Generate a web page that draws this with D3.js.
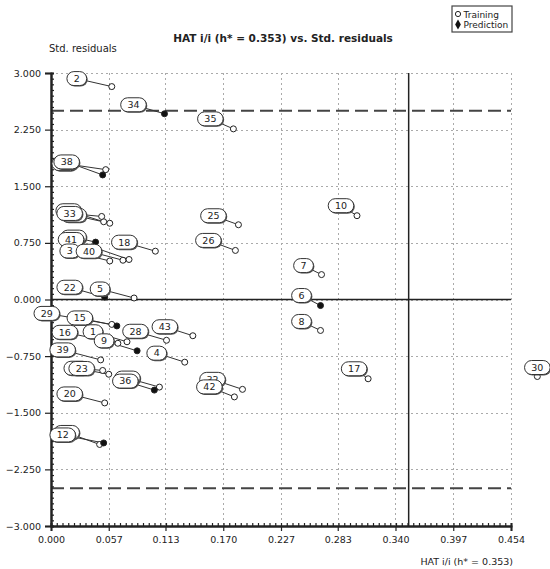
<!DOCTYPE html>
<html>
<head>
<meta charset="utf-8">
<script src="https://cdn.jsdelivr.net/npm/d3@7"></script>
<style>
body { margin: 0; background: #fff; }
text { font-family: "DejaVu Sans", Verdana, sans-serif; fill: #222; }
</style>
</head>
<body>
<svg id="chart"></svg>
<script>
// sample ids, leverage (HAT i/i), standardized residuals, set (T = training, P = prediction)
// order = drawing order (later labels sit on top)
const ids   = [11, 14, 33, 37, 38, 27, 41, 3, 40, 18, 22, 5, 2, 34, 35, 25, 26, 7, 6, 10, 8, 17, 30, 32, 42, 43, 4, 28, 29, 15, 16, 1, 9, 39, 19, 23, 31, 36, 20, 13, 12];
const hat   = [0.052, 0.058, 0.050, 0.054, 0.051, 0.044, 0.077, 0.058, 0.071, 0.103, 0.053, 0.082, 0.060, 0.112, 0.180, 0.185, 0.182, 0.267, 0.266, 0.302, 0.266, 0.313, 0.480, 0.189, 0.181, 0.140, 0.132, 0.114, 0.060, 0.065, 0.066, 0.075, 0.085, 0.049, 0.057, 0.051, 0.107, 0.102, 0.053, 0.048, 0.052];
const resid = [1.03, 1.01, 1.10, 1.72, 1.65, 0.76, 0.53, 0.51, 0.52, 0.64, 0.03, 0.02, 2.82, 2.46, 2.26, 0.99, 0.65, 0.33, -0.08, 1.11, -0.41, -1.05, -1.02, -1.19, -1.29, -0.48, -0.83, -0.54, -0.33, -0.35, -0.58, -0.56, -0.68, -0.80, -0.99, -0.94, -1.16, -1.20, -1.37, -1.92, -1.90];
const set   = ["T", "T", "T", "T", "P", "P", "T", "T", "T", "T", "P", "T", "T", "P", "T", "T", "T", "T", "P", "T", "T", "T", "T", "T", "T", "T", "T", "T", "T", "P", "T", "T", "P", "T", "T", "T", "T", "P", "T", "T", "P"];

const xTicks = [0, 0.057, 0.113, 0.170, 0.227, 0.283, 0.340, 0.397, 0.454];
const yTicks = [-3, -2.25, -1.5, -0.75, 0, 0.75, 1.5, 2.25, 3];
const hStar = 0.353;
const residLimit = 2.5;

// label placement (pixel nudges from the marker), like the original's label layout
const labelNudge = {
    11: [-35, -11], 14: [-36, -8], 33: [-32, -3], 37: [-41, -6], 38: [-36, -13], 27: [-22, -5],
    41: [-58, -20], 3: [-40, -10], 40: [-34, -9], 18: [-31, -9], 22: [-35, -10], 5: [-34, -9],
    2: [-35, -8], 34: [-31, -9], 35: [-23, -10], 25: [-25, -9], 26: [-27, -10], 7: [-18, -9],
    6: [-19, -10], 10: [-16, -10], 8: [-19, -9], 17: [-14, -10], 30: [0, -9], 32: [-30, -10],
    42: [-25, -10], 43: [-28, -9], 4: [-28, -9], 28: [-31, -9], 29: [-65, -11], 15: [-37, -8],
    16: [-53, -11], 1: [-34, -10], 9: [-33, -10], 39: [-38, -10], 19: [-32, -6], 23: [-21, -2],
    31: [-32, -9], 36: [-29, -9], 20: [-35, -9], 13: [-33, -12], 12: [-41, -8]
};

const width = 550, height = 569;
const svg = d3.select("#chart").attr("width", width).attr("height", height);

const x = d3.scaleLinear().domain([0, 0.454]).range([51, 511]);
const y = d3.scaleLinear().domain([-3, 3]).range([526, 73]);

const points = ids.map((id, i) => ({ id, h: hat[i], r: resid[i], set: set[i] }));

// grid
const grid = svg.append("g").attr("stroke", "#aaa").attr("stroke-dasharray", "2,3").attr("stroke-width", 1);
grid.selectAll("line.v").data(xTicks.slice(1)).enter().append("line")
    .attr("x1", d => Math.round(x(d)) + 0.5).attr("x2", d => Math.round(x(d)) + 0.5)
    .attr("y1", y(3)).attr("y2", y(-3));
grid.selectAll("line.h").data(yTicks.slice(1)).enter().append("line")
    .attr("x1", x(0)).attr("x2", x(0.454))
    .attr("y1", d => Math.round(y(d)) + 0.5).attr("y2", d => Math.round(y(d)) + 0.5);

// residual limits and h*
svg.selectAll("line.lim").data([residLimit, -residLimit]).enter().append("line")
    .attr("x1", x(0)).attr("x2", x(0.454))
    .attr("y1", d => y(d)).attr("y2", d => y(d))
    .attr("stroke", "#444").attr("stroke-width", 2).attr("stroke-dasharray", "13,6");
svg.append("line")
    .attr("x1", x(0)).attr("x2", x(0.454)).attr("y1", y(0)).attr("y2", y(0))
    .attr("stroke", "#222").attr("stroke-width", 1.5);
svg.append("line")
    .attr("x1", x(hStar)).attr("x2", x(hStar)).attr("y1", y(3)).attr("y2", y(-3))
    .attr("stroke", "#222").attr("stroke-width", 1.5);

// axes
const xAxis = svg.append("g").attr("transform", `translate(0,${y(-3)})`);
xAxis.call(d3.axisBottom(x).tickValues(d3.range(0, 80.5).map(i => i * 0.454 / 80)).tickSize(-3).tickFormat(""));
xAxis.call(g => g.append("g").call(d3.axisBottom(x).tickValues(xTicks).tickSize(5).tickFormat(d3.format(".3f"))));
const yAxis = svg.append("g").attr("transform", `translate(${x(0)},0)`);
yAxis.call(d3.axisLeft(y).tickValues(d3.range(0, 80.5).map(i => -3 + i * 0.075)).tickSize(-3).tickFormat(""));
yAxis.call(g => g.append("g").call(d3.axisLeft(y).tickValues(yTicks).tickSize(6).tickFormat(d3.format(".3f"))));
svg.selectAll(".domain").attr("stroke", "#222").attr("stroke-width", 2);
svg.selectAll(".tick line").attr("stroke", "#222").attr("stroke-width", 1.2);
svg.selectAll(".tick text").attr("font-family", "DejaVu Sans").attr("font-size", 9.5).attr("fill", "#222");
xAxis.selectAll(".tick text").attr("dy", "0.9em");
yAxis.selectAll(".tick text").attr("dx", "-1px");

// connectors
const lx = d => x(d.h) + labelNudge[d.id][0];
const ly = d => y(d.r) + labelNudge[d.id][1];
svg.append("g").selectAll("line").data(points).enter().append("line")
    .attr("x1", lx).attr("y1", ly).attr("x2", d => x(d.h)).attr("y2", d => y(d.r))
    .attr("stroke", "#333").attr("stroke-width", 1);

// markers
svg.append("g").selectAll("circle").data(points).enter().append("circle")
    .attr("cx", d => x(d.h)).attr("cy", d => y(d.r)).attr("r", 3)
    .attr("fill", d => d.set === "P" ? "#111" : "#fff")
    .attr("stroke", "#222").attr("stroke-width", 1);

// labels
const pillW = d => String(d.id).length * 5.8 + 14;
const lab = svg.append("g").selectAll("g").data(points).enter().append("g")
    .attr("transform", d => `translate(${lx(d)},${ly(d)})`);
lab.append("rect")
    .attr("x", d => -pillW(d) / 2 + 1).attr("y", -6)
    .attr("width", pillW).attr("height", 14).attr("rx", 7)
    .attr("fill", "#555");
lab.append("rect")
    .attr("x", d => -pillW(d) / 2).attr("y", -7)
    .attr("width", pillW).attr("height", 14).attr("rx", 7)
    .attr("fill", "#fff").attr("stroke", "#333").attr("stroke-width", 1);
lab.append("text").attr("text-anchor", "middle").attr("dy", "0.35em")
    .attr("font-size", 9.5).text(d => d.id);

// titles
svg.append("text").attr("x", 283).attr("y", 42).attr("text-anchor", "middle")
    .attr("font-family", "Liberation Sans, Arial").attr("font-weight", "bold").attr("font-size", 10.5)
    .text("HAT i/i (h* = 0.353) vs. Std. residuals");
svg.append("text").attr("x", 49).attr("y", 52)
    .attr("font-family", "Liberation Sans, Arial").attr("font-size", 10)
    .text("Std. residuals");
svg.append("text").attr("x", 513).attr("y", 565).attr("text-anchor", "end")
    .attr("font-family", "Liberation Sans, Arial").attr("font-size", 9.5)
    .text("HAT i/i (h* = 0.353)");

// legend
const leg = svg.append("g").attr("transform", "translate(452,6)");
leg.append("rect").attr("width", 60).attr("height", 26)
    .attr("fill", "#fff").attr("stroke", "#444").attr("stroke-width", 1.2);
leg.append("circle").attr("cx", 6).attr("cy", 8).attr("r", 2.6)
    .attr("fill", "#fff").attr("stroke", "#222");
leg.append("path").attr("d", d3.symbol(d3.symbolDiamond, 28)()).attr("transform", "translate(6,18.5)")
    .attr("fill", "#111");
leg.append("text").attr("x", 11.5).attr("y", 11.5).attr("font-family", "Liberation Sans, Arial")
    .attr("font-size", 9).text("Training");
leg.append("text").attr("x", 11.5).attr("y", 22).attr("font-family", "Liberation Sans, Arial")
    .attr("font-size", 9).text("Prediction");
</script>
</body>
</html>
